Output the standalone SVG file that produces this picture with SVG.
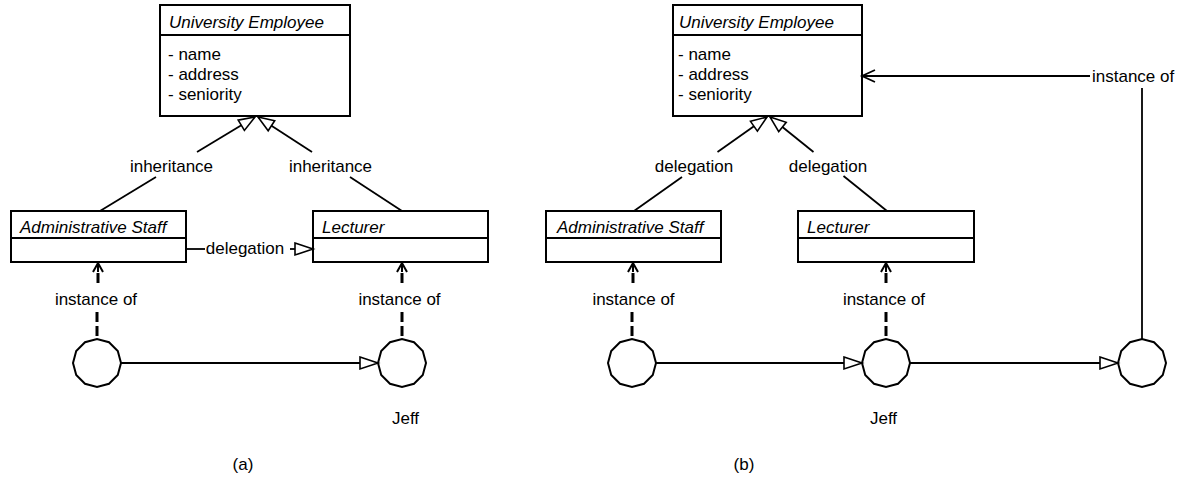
<svg xmlns="http://www.w3.org/2000/svg" width="1179" height="479" viewBox="0 0 1179 479">
  <style>
    text { font-family: "Liberation Sans", Arial, Helvetica, sans-serif; font-size: 17px; fill: #000; }
    .cls { font-style: italic; }
    .mid { text-anchor: middle; }
    .box { fill: #fff; stroke: #000; stroke-width: 2; }
    .div { stroke: #000; stroke-width: 2; fill: none; }
    .ln { stroke: #000; stroke-width: 1.8; fill: none; }
    .dash { stroke: #000; stroke-width: 3; fill: none; stroke-dasharray: 10 4; }
    .head { stroke: #000; stroke-width: 2; fill: none; }
    .obj { fill: #fff; stroke: #000; stroke-width: 2; }
  </style>
  <defs>
    <!-- hollow triangle for generalisation / delegation links -->
    <marker id="tri" viewBox="0 0 18 12" refX="18" refY="6" markerWidth="18" markerHeight="12" markerUnits="userSpaceOnUse" orient="auto" overflow="visible">
      <path d="M0,0 L18,6 L0,12 Z" fill="#fff" stroke="#000" stroke-width="1.6"/>
    </marker>
    <marker id="triSm" viewBox="0 0 16 12" refX="16" refY="6" markerWidth="16" markerHeight="12" markerUnits="userSpaceOnUse" orient="auto" overflow="visible">
      <path d="M0,0 L16,6 L0,12 Z" fill="#fff" stroke="#000" stroke-width="1.6"/>
    </marker>
    <!-- open arrowhead -->
    <marker id="open" viewBox="0 0 13 12" refX="13" refY="6" markerWidth="13" markerHeight="12" markerUnits="userSpaceOnUse" orient="auto" overflow="visible">
      <path d="M0,0 L13,6 L0,12" fill="none" stroke="#000" stroke-width="1.8"/>
    </marker>
    <!-- object symbol (12-sided) -->
    <polygon id="objShape" class="obj" points="24,0 20.78,12 12,20.78 0,24 -12,20.78 -20.78,12 -24,0 -20.78,-12 -12,-20.78 0,-24 12,-20.78 20.78,-12"/>
  </defs>

  <!-- ===================== (a) ===================== -->
  <g id="a-employee">
    <rect class="box" x="160" y="5" width="190" height="111"/>
    <line class="div" x1="160" y1="35" x2="350" y2="35"/>
    <text class="cls" x="169" y="28">University Employee</text>
    <text x="168" y="60">- name</text>
    <text x="168" y="80">- address</text>
    <text x="168" y="100">- seniority</text>
  </g>
  <g id="a-admin">
    <rect class="box" x="11" y="211" width="175" height="51"/>
    <line class="div" x1="11" y1="238" x2="186" y2="238"/>
    <text class="cls" x="20" y="233">Administrative Staff</text>
  </g>
  <g id="a-lecturer">
    <rect class="box" x="313" y="211" width="175" height="51"/>
    <line class="div" x1="313" y1="238" x2="488" y2="238"/>
    <text class="cls" x="322" y="233">Lecturer</text>
  </g>
  <g id="a-obj1"><use href="#objShape" x="97" y="363"/></g>
  <g id="a-obj2"><use href="#objShape" x="402" y="363"/></g>

  <!-- ===================== (b) ===================== -->
  <g id="b-employee">
    <rect class="box" x="673" y="5" width="189" height="111"/>
    <line class="div" x1="673" y1="35" x2="862" y2="35"/>
    <text class="cls" x="679" y="28">University Employee</text>
    <text x="678" y="60">- name</text>
    <text x="678" y="80">- address</text>
    <text x="678" y="100">- seniority</text>
  </g>
  <g id="b-admin">
    <rect class="box" x="546" y="211" width="175" height="51"/>
    <line class="div" x1="546" y1="238" x2="721" y2="238"/>
    <text class="cls" x="557" y="233">Administrative Staff</text>
  </g>
  <g id="b-lecturer">
    <rect class="box" x="798" y="211" width="176" height="51"/>
    <line class="div" x1="798" y1="238" x2="974" y2="238"/>
    <text class="cls" x="807" y="233">Lecturer</text>
  </g>
  <g id="b-obj1"><use href="#objShape" x="632" y="363"/></g>
  <g id="b-obj2"><use href="#objShape" x="886" y="363"/></g>
  <g id="b-obj3"><use href="#objShape" x="1142" y="363"/></g>

  <!-- ===================== connectors ===================== -->
  <g id="connectors">
    <!-- (a) inheritance -->
    <path class="ln" d="M100,211 L156,177"/>
    <path class="ln" d="M197,152 L255,117" marker-end="url(#triSm)"/>
    <text class="mid" x="171.5" y="172">inheritance</text>
    <path class="ln" d="M402,211 L350,177"/>
    <path class="ln" d="M312,152 L258,117" marker-end="url(#triSm)"/>
    <text class="mid" x="330.5" y="172">inheritance</text>

    <!-- (a) delegation -->
    <path class="ln" d="M186,249 H205"/>
    <path class="ln" d="M290,249 H313" marker-end="url(#tri)"/>
    <text class="mid" x="245" y="254">delegation</text>

    <!-- (a) instance of: admin -->
    <path class="head" d="M93,272 L98,263 L103,272 M98,263 V272"/>
    <path class="dash" d="M98,273 V284"/>
    <path class="dash" d="M97,312 V339"/>
    <text class="mid" x="96" y="305">instance of</text>

    <!-- (a) instance of: lecturer -->
    <path class="head" d="M397,272 L402,263 L407,272 M402,263 V272"/>
    <path class="dash" d="M402,273 V284"/>
    <path class="dash" d="M402,312 V339"/>
    <text class="mid" x="399.5" y="305">instance of</text>

    <!-- (a) object to object -->
    <path class="ln" d="M121,363 H378" marker-end="url(#tri)"/>

    <!-- (b) delegation -->
    <path class="ln" d="M634,211 L682,177"/>
    <path class="ln" d="M717.5,152 L767,117" marker-end="url(#triSm)"/>
    <text class="mid" x="694" y="172">delegation</text>
    <path class="ln" d="M887,211 L843.5,176"/>
    <path class="ln" d="M813.5,152 L770,117" marker-end="url(#triSm)"/>
    <text class="mid" x="828" y="172">delegation</text>

    <!-- (b) instance of: admin -->
    <path class="head" d="M628,272 L633,263 L638,272 M633,263 V272"/>
    <path class="dash" d="M633,273 V284"/>
    <path class="dash" d="M632,312 V339"/>
    <text class="mid" x="633.5" y="305">instance of</text>

    <!-- (b) instance of: lecturer -->
    <path class="head" d="M881,272 L886,263 L891,272 M886,263 V272"/>
    <path class="dash" d="M886,273 V284"/>
    <path class="dash" d="M886,312 V339"/>
    <text class="mid" x="884" y="305">instance of</text>

    <!-- (b) object to object -->
    <path class="ln" d="M656,363 H862" marker-end="url(#tri)"/>
    <path class="ln" d="M910,363 H1118" marker-end="url(#tri)"/>

    <!-- (b) instance of: right object to employee -->
    <path class="ln" d="M1142,339 V88"/>
    <path class="ln" d="M1090,76 H862" marker-end="url(#open)"/>
    <text x="1092" y="82">instance of</text>
  </g>

  <!-- captions -->
  <text class="mid" x="405.5" y="424">Jeff</text>
  <text class="mid" x="883.5" y="424">Jeff</text>
  <text class="mid" x="243" y="470">(a)</text>
  <text class="mid" x="744" y="470">(b)</text>
</svg>
